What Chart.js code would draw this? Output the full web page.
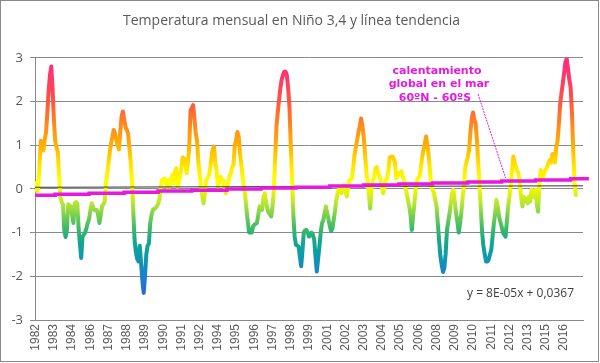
<!DOCTYPE html>
<html>
<head>
<meta charset="utf-8">
<script src="https://cdn.jsdelivr.net/npm/chart.js@4"></script>
<style>
  html, body { margin: 0; padding: 0; background: #fff; }
  #wrap { width: 600px; height: 363px; }
</style>
</head>
<body>
<div id="wrap"><canvas id="chart" width="600" height="363"></canvas></div>
<script>
// monthly Niño 3.4 anomaly, Jan 1982 .. Aug 2016
const nino34 = [
  0.13, -0.05, 0.0, 0.55, 1.1, 1.05, 0.88, 1.12, 1.3, 1.75, 2.25, 2.6,        // 1982
  2.8, 2.3, 1.6, 1.1, 0.95, 0.85, 0.3, -0.2, -0.3, -0.35, -0.95, -1.1,        // 1983
  -0.95, -0.35, -0.38, -0.4, -0.6, -0.78, -0.33, -0.3, -0.33, -0.9, -1.25, -1.58, // 1984
  -1.1, -1.05, -1.0, -0.9, -0.78, -0.7, -0.5, -0.33, -0.4, -0.48, -0.48, -0.48, // 1985
  -0.6, -0.78, -0.6, -0.4, -0.35, -0.3, 0.13, 0.35, 0.6, 0.85, 1.05, 1.2,     // 1986
  1.35, 1.27, 1.12, 1.0, 0.9, 1.3, 1.65, 1.77, 1.6, 1.42, 1.35, 1.27,         // 1987
  0.95, 0.6, 0.2, -0.5, -1.17, -1.45, -1.6, -1.66, -1.3, -1.7, -2.1, -2.38,   // 1988
  -2.0, -1.5, -1.3, -1.25, -0.78, -0.6, -0.48, -0.46, -0.44, -0.4, -0.35, -0.25, // 1989
  0.0, 0.2, 0.22, 0.24, 0.15, 0.05, 0.2, 0.05, 0.2, 0.32, 0.13, 0.4,          // 1990
  0.47, 0.05, 0.15, 0.28, 0.5, 0.72, 0.7, 0.55, 0.36, 0.6, 0.97, 1.8,         // 1991
  1.85, 1.92, 1.6, 1.27, 1.1, 0.6, 0.36, 0.0, -0.15, -0.33, -0.1, 0.2,        // 1992
  0.25, 0.3, 0.43, 0.7, 0.9, 0.97, 0.6, 0.43, 0.05, 0.15, 0.28, 0.22,         // 1993
  0.2, 0.0, -0.1, 0.05, 0.15, 0.3, 0.36, 0.5, 0.55, 1.0, 1.12, 1.3,           // 1994
  1.2, 0.8, 0.55, 0.28, 0.05, -0.15, -0.48, -0.75, -1.0, -1.0, -1.0, -0.86,   // 1995
  -0.82, -0.8, -0.78, -0.6, -0.4, -0.45, -0.48, -0.2, -0.1, -0.3, -0.45, -0.55, // 1996
  -0.58, -0.63, -0.4, -0.02, 0.7, 1.42, 1.75, 2.03, 2.3, 2.5, 2.6, 2.68,      // 1997
  2.68, 2.6, 2.3, 1.88, 1.0, 0.2, -0.6, -1.1, -1.28, -1.3, -1.32, -1.55,      // 1998
  -1.77, -1.4, -1.0, -0.95, -0.94, -1.0, -1.09, -1.05, -1.0, -1.05, -1.16, -1.55, // 1999
  -1.89, -1.6, -1.32, -1.0, -0.78, -0.72, -0.55, -0.4, -0.55, -0.7, -0.85, -0.97, // 2000
  -0.9, -0.7, -0.5, -0.25, -0.1, 0.02, -0.05, -0.1, 0.0, 0.09, -0.05, -0.17,  // 2001
  0.0, 0.2, 0.22, 0.24, 0.5, 0.78, 0.95, 1.12, 1.3, 1.42, 1.61, 1.45,         // 2002
  1.2, 0.8, 0.43, 0.15, -0.1, -0.45, 0.0, 0.2, 0.24, 0.47, 0.5, 0.36,         // 2003
  0.3, 0.2, 0.05, -0.1, 0.05, 0.2, 0.25, 0.4, 0.72, 0.73, 0.74, 0.7,          // 2004
  0.6, 0.24, 0.3, 0.36, 0.38, 0.4, 0.28, 0.2, 0.05, -0.1, -0.25, -0.4,        // 2005
  -0.6, -0.94, -0.6, -0.33, 0.0, 0.2, 0.25, 0.28, 0.5, 0.74, 0.9, 1.05,       // 2006
  1.2, 1.0, 0.74, 0.4, 0.05, -0.02, -0.1, -0.25, -0.4, -0.8, -1.2, -1.55,     // 2007
  -1.75, -1.9, -1.8, -1.47, -0.94, -0.75, -0.56, -0.3, -0.1, -0.02, -0.3, -0.56, // 2008
  -0.75, -1.0, -0.8, -0.56, -0.2, 0.05, 0.5, 0.6, 0.74, 0.9, 1.3, 1.6,        // 2009
  1.75, 1.6, 1.5, 1.12, 0.6, 0.1, -0.45, -1.0, -1.3, -1.5, -1.66, -1.66,      // 2010
  -1.62, -1.5, -1.4, -1.1, -0.8, -0.56, -0.25, -0.4, -0.63, -0.75, -0.86, -1.0, // 2011
  -1.05, -1.09, -0.75, -0.4, -0.18, 0.1, 0.43, 0.74, 0.6, 0.5, 0.4, 0.36,     // 2012
  0.1, -0.2, -0.4, -0.18, -0.22, -0.28, -0.33, -0.18, -0.29, -0.02, -0.15, -0.18, // 2013
  -0.02, -0.35, -0.52, 0.1, 0.43, 0.35, 0.28, 0.4, 0.45, 0.5, 0.6, 0.66,      // 2014
  0.6, 0.8, 0.7, 0.6, 0.97, 1.1, 1.5, 1.95, 2.2, 2.41, 2.65, 2.9,             // 2015
  2.98, 2.75, 2.5, 2.33, 1.75, 0.9, 0.15, -0.14                               // 2016
];

// sea warming 60N-60S, stepped series: start month of each step and its value
const warmStepMonth = [-0.5, 15, 41, 68, 94, 120, 147, 173, 200, 226, 252, 279, 305, 332, 358, 384, 411, 425];
const warmStepValue = [-0.145, -0.12, -0.1, -0.075, -0.05, -0.03, -0.005, 0.02, 0.04, 0.065, 0.09, 0.11, 0.135, 0.16, 0.18, 0.205, 0.23, 0.23];

// linear trend of nino34 (y = 8E-05x + 0,0367), ends
const trendMonth = [-0.5, 420.5];
const trendValue = [0.037, 0.071];

const totalMonths = 421;
const tickEvery = 14;
const xTickLabels = ['1982','1983','1984','1986','1987','1988','1989','1990','1991','1992',
  '1994','1995','1996','1997','1998','1999','2001','2002','2003','2004',
  '2005','2006','2008','2009','2010','2011','2012','2013','2015','2016'];
const yTicks = [-3, -2, -1, 0, 1, 2, 3];

const MAGENTA = '#e619e0';
const GREY_TXT = '#595959';
const GRID = '#8a8a8a';

// value -> colour of the main line
const colourStops = [
  [3.0, '#ff2a80'], [2.5, '#ff3a66'], [2.0, '#ff5540'], [1.5, '#ff8522'],
  [1.0, '#ffb000'], [0.5, '#ffe800'], [0.15, '#ffff00'], [-0.1, '#e2f20c'],
  [-0.35, '#b2e436'], [-0.6, '#78d050'], [-0.9, '#3cba66'], [-1.2, '#14a88a'],
  [-1.5, '#0c9ca8'], [-1.9, '#1686c4'], [-2.4, '#2466e8'], [-3.0, '#3040ff']
];

function lineGradient(context) {
  const chart = context.chart;
  const { ctx, chartArea, scales } = chart;
  if (!chartArea) return '#ffcc00';
  const top = scales.y.getPixelForValue(3);
  const bot = scales.y.getPixelForValue(-3);
  const g = ctx.createLinearGradient(0, top, 0, bot);
  colourStops.forEach(([v, c]) => g.addColorStop((3 - v) / 6, c));
  return g;
}

const chartBorder = {
  id: 'chartBorder',
  beforeDraw(chart) {
    const { ctx, width, height } = chart;
    ctx.save();
    ctx.fillStyle = '#fff';
    ctx.fillRect(0, 0, width, height);
    ctx.restore();
  },
  afterDraw(chart) {
    const { ctx, width, height } = chart;
    ctx.save();
    ctx.strokeStyle = '#8a8a8a';
    ctx.lineWidth = 1;
    ctx.strokeRect(0.5, 0.5, width - 2, height - 2);
    ctx.restore();
  }
};

const notes = {
  id: 'notes',
  afterDatasetsDraw(chart) {
    const { ctx, scales } = chart;
    ctx.save();
    // leader line from the label to the warming series
    ctx.strokeStyle = MAGENTA;
    ctx.lineWidth = 1;
    ctx.setLineDash([2, 1]);
    ctx.beginPath();
    ctx.moveTo(478, 94);
    ctx.lineTo(scales.x.getPixelForValue(361), scales.y.getPixelForValue(0.25));
    ctx.stroke();
    ctx.setLineDash([]);

    ctx.fillStyle = MAGENTA;
    ctx.font = 'bold 11px "DejaVu Sans"';
    ctx.textAlign = 'center';
    ctx.textBaseline = 'middle';
    ctx.fillText('calentamiento', 437, 71);
    ctx.fillText('global en el mar', 439, 84);
    ctx.fillText('60ºN - 60ºS', 435, 98);

    ctx.fillStyle = '#404040';
    ctx.font = '12px "Open Sans"';
    ctx.textAlign = 'left';
    ctx.fillText('y = 8E-05x + 0,0367', 467, 294);
    ctx.restore();
  }
};

const ctx = document.getElementById('chart').getContext('2d');

new Chart(ctx, {
  type: 'line',
  data: {
    datasets: [
      {
        label: 'calentamiento global en el mar',
        data: warmStepMonth.map((m, i) => ({ x: m, y: warmStepValue[i] })),
        borderColor: MAGENTA,
        borderWidth: 3.5,
        stepped: 'before',
        pointRadius: 0,
        clip: { left: 0, top: 0, right: 8, bottom: 0 }
      },
      {
        label: 'tendencia',
        data: trendMonth.map((m, i) => ({ x: m, y: trendValue[i] })),
        borderColor: '#333',
        borderWidth: 1,
        pointRadius: 0
      },
      {
        label: 'Niño 3,4',
        data: nino34.map((v, i) => ({ x: i, y: v })),
        borderColor: lineGradient,
        borderWidth: 4,
        borderJoinStyle: 'round',
        borderCapStyle: 'round',
        pointRadius: 0,
        tension: 0
      }
    ]
  },
  options: {
    responsive: false,
    animation: false,
    devicePixelRatio: 1,
    layout: { padding: { left: 0, right: 17, top: 0, bottom: 0 } },
    plugins: {
      legend: { display: false },
      tooltip: { enabled: false },
      title: {
        display: true,
        text: 'Temperatura mensual en Niño 3,4 y línea tendencia',
        color: GREY_TXT,
        font: { family: 'Open Sans', size: 14, weight: 'normal' },
        padding: { top: 13, bottom: 28 }
      }
    },
    scales: {
      x: {
        type: 'linear',
        min: -0.5,
        max: totalMonths - 0.5,
        afterBuildTicks: s => {
          s.ticks = xTickLabels.map((l, k) => ({ value: k * tickEvery }));
        },
        afterFit: s => { s.height = 43; },
        grid: { display: false, drawTicks: false },
        border: { display: true, color: GRID },
        ticks: {
          autoSkip: false,
          minRotation: 90,
          maxRotation: 90,
          padding: 4,
          color: GREY_TXT,
          font: { family: 'Liberation Sans', size: 12 },
          callback: (v, k) => xTickLabels[k]
        }
      },
      y: {
        min: -3,
        max: 3,
        afterBuildTicks: s => { s.ticks = yTicks.map(v => ({ value: v })); },
        afterFit: s => { s.width = 35; },
        grid: { color: GRID, tickLength: 5, drawTicks: true },
        border: { display: true, color: GRID },
        ticks: {
          padding: 7,
          color: GREY_TXT,
          font: { family: 'Open Sans', size: 13 }
        }
      }
    }
  },
  plugins: [chartBorder, notes]
});
</script>
</body>
</html>
